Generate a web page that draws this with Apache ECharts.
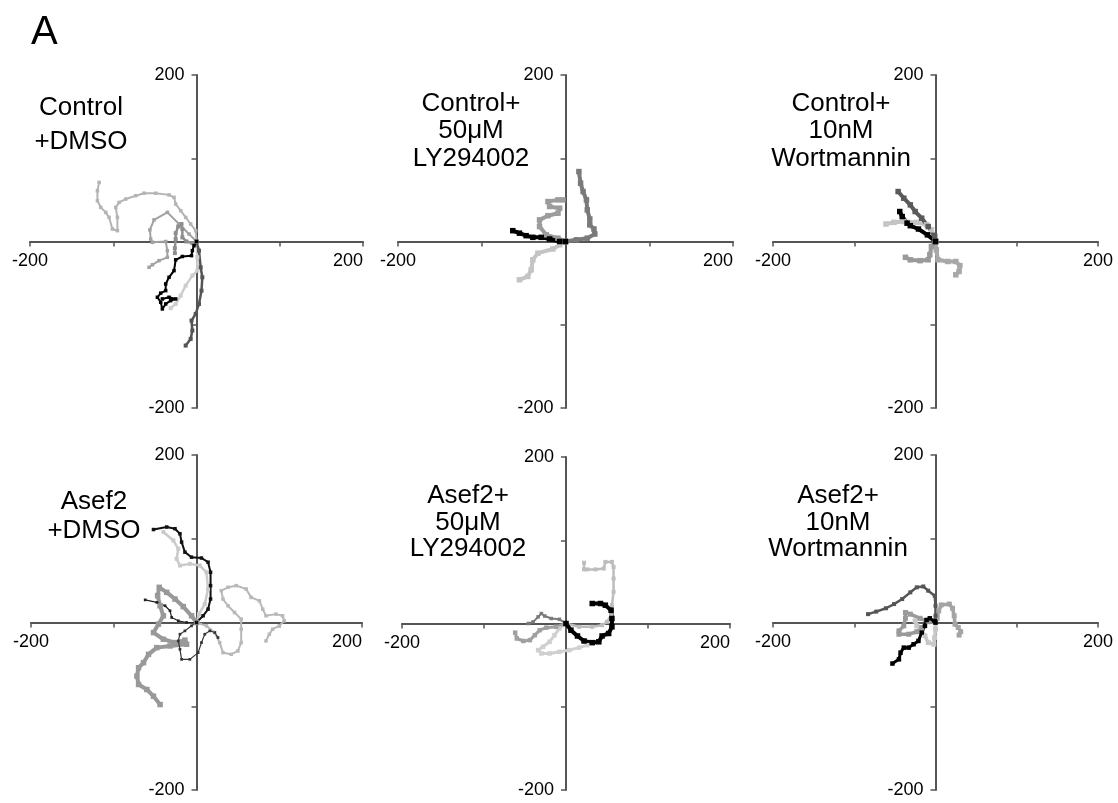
<!DOCTYPE html>
<html>
<head>
<meta charset="utf-8">
<title>Cell tracks</title>
<script src="https://cdn.jsdelivr.net/npm/echarts@6.0.0/dist/echarts.min.js"></script>
<style>
  html, body { margin: 0; padding: 0; background: #fff; }
  #tracks { width: 1118px; height: 803px; }
</style>
</head>
<body>
<div id="tracks"></div>
<script>
// axis range and the tick labels that are printed
var axisMin = -200;
var axisMax = 200;
var tickStep = 100;
var shownTicks = [-200, 200];

// panel titles
var panelTitles = [
  'Control\n+DMSO',
  'Control+\n50\u03bcM\nLY294002',
  'Control+\n10nM\nWortmannin',
  'Asef2\n+DMSO',
  'Asef2+\n50\u03bcM\nLY294002',
  'Asef2+\n10nM\nWortmannin'
];

// Control + DMSO tracks (x, y)
var c1A = [[0,0],[-1,13],[-7,21],[-13,29],[-19,37],[-25,45],[-27,53],[-33,56],[-49,58],[-63,58],[-73,55],[-85,51],[-93,47],[-97,41],[-95,29],[-95,13],[-101,15],[-105,29],[-109,35],[-115,41],[-119,49],[-119,61],[-117,71]];
var c1B = [[0,0],[-9,9],[-21,21],[-35,35],[-51,26],[-56,14],[-55,3],[-53,-1],[-37,0],[-35,-11],[-35,-19],[-45,-23],[-53,-28],[-57,-31]];
var c1C = [[0,0],[-5,-2],[-12,0],[-17,5],[-17,15],[-18,21],[-22,18],[-25,10],[-25,3],[-26,-8],[-26,-14]];
var c1D = [[0,0],[-3,-5],[-5,-11],[-6,-17],[-17,-18],[-25,-22],[-27,-35],[-33,-43],[-37,-51],[-37,-59],[-43,-62],[-47,-67],[-43,-73],[-41,-81],[-37,-75],[-31,-71],[-25,-69],[-33,-67],[-41,-69]];
var c1E = [[0,0],[1,-19],[1,-35],[-5,-41],[-13,-53],[-19,-65],[-25,-75],[-31,-80]];
var c1F = [[0,0],[3,-11],[5,-31],[7,-43],[6,-59],[3,-75],[-1,-87],[-6,-95],[-5,-107],[-7,-117],[-13,-125]];

// Control + LY294002
var c2A = [[0,0],[13,2],[26,4],[35,9],[34,15],[29,20],[29,27],[26,38],[25,50],[21,60],[18,70],[16,84]];
var c2B = [[0,0],[-9,4],[-23,8],[-31,18],[-31,26],[-21,31],[-9,34],[-7,40],[-19,42],[-21,48],[-9,50],[-3,50]];
var c2C = [[0,0],[-7,0],[-19,3],[-29,5],[-39,5],[-47,7],[-55,10],[-63,13]];
var c2D = [[0,0],[-7,-4],[-15,-9],[-33,-14],[-39,-22],[-41,-34],[-45,-42],[-55,-46]];

// Control + Wortmannin
var c3A = [[0,0],[-1,6],[-9,18],[-17,28],[-25,36],[-31,44],[-39,52],[-46,60]];
var c3B = [[0,0],[-10,8],[-21,15],[-31,19],[-35,22],[-41,30],[-44,36]];
var c3C = [[0,0],[-5,14],[-11,20],[-23,23],[-39,24],[-51,23],[-61,21]];
var c3D = [[0,0],[-5,-6],[-7,-16],[-9,-22],[-19,-23],[-31,-22],[-37,-19]];
var c3E = [[0,0],[1,-10],[3,-22],[15,-24],[25,-24],[30,-29],[29,-36],[25,-40]];

// Asef2 + DMSO
var c4A = [[0,0],[3,10],[10,22],[14,40],[12,60],[4,68],[-8,70],[-20,68],[-24,76],[-22,88],[-28,98],[-40,108]];
var c4B = [[0,0],[12,-4],[22,-12],[28,-24],[32,-36],[42,-38],[50,-34],[54,-24],[54,-8],[54,4],[46,12],[38,20],[32,28],[30,38],[38,42],[48,44],[60,40],[66,30],[76,26],[80,16],[84,8],[96,10],[104,8],[106,2],[100,-4],[92,-8],[88,-14],[84,-22]];
var c4C = [[0,0],[-6,8],[-16,19],[-26,28],[-36,36],[-45,42],[-47,32],[-44,20],[-40,8],[-46,-2],[-52,-12],[-40,-20],[-26,-24],[-14,-21],[-12,-26],[-32,-28],[-48,-30],[-58,-38],[-64,-48],[-70,-54],[-72,-64],[-70,-74],[-60,-80],[-52,-88],[-44,-98]];
var c4D = [[0,0],[8,8],[14,16],[17,28],[17,44],[17,60],[14,72],[6,77],[-6,78],[-14,84],[-18,96],[-20,106],[-26,112],[-36,114],[-52,111]];
var c4E = [[0,0],[-6,-4],[-14,-10],[-20,-14],[-22,-22],[-20,-32],[-18,-44],[-8,-44],[2,-36],[6,-24],[10,-14],[16,-10],[22,-12],[26,-18]];
var c4F = [[0,0],[-12,0],[-22,2],[-30,6],[-32,14],[-38,20],[-48,24],[-62,27]];

// Asef2 + LY294002
var c5A = [[0,0],[6,-8],[14,-15],[22,-21],[32,-23],[40,-22],[44,-15],[52,-12],[56,-4],[56,6],[55,16],[48,22],[42,24],[32,24]];
var c5B = [[0,0],[16,-4],[32,-4],[44,-2],[50,2],[55,10],[56,22],[58,38],[58,54],[58,68],[56,74],[48,74],[46,66],[36,65],[26,65],[22,65],[22,73]];
var c5C = [[0,0],[-8,5],[-18,6],[-26,9],[-30,12],[-34,8],[-40,2],[-46,0]];
var c5D = [[0,0],[-12,-4],[-24,-5],[-32,-8],[-38,-14],[-44,-20],[-52,-21],[-60,-18],[-62,-11]];
var c5E = [[0,0],[-8,-6],[-14,-14],[-20,-22],[-28,-28],[-34,-32],[-30,-36],[-20,-36],[-8,-34],[4,-32],[16,-29],[26,-26]];

// Asef2 + Wortmannin
var c6A = [[0,0],[0,8],[0,20],[-1,32],[-9,38],[-15,43],[-23,42],[-31,36],[-41,28],[-51,22],[-61,17],[-73,13],[-83,10]];
var c6B = [[0,0],[-1,2],[-7,5],[-11,3],[-13,-4],[-17,-12],[-21,-22],[-27,-26],[-33,-30],[-39,-30],[-43,-36],[-45,-44],[-53,-49]];
var c6C = [[0,0],[2,5],[4,14],[7,21],[17,22],[21,17],[23,8],[24,-2],[28,-6],[31,-11],[29,-15]];
var c6D = [[0,0],[-9,1],[-19,5],[-31,10],[-37,12],[-37,5],[-39,-4],[-45,-10],[-45,-14],[-33,-14],[-23,-11],[-17,-6]];
var c6E = [[0,0],[0,-8],[-1,-18],[-2,-26],[-9,-24],[-13,-16],[-17,-8],[-23,-4],[-25,2]];

document.addEventListener('DOMContentLoaded', function() {
  var myChart = echarts.init(document.getElementById('tracks'));
  var font = '"Liberation Sans", Arial, sans-serif';

  // layout of the six panels: grid box, title [centre x, top, line height]
  var panels = [
    { grid: { left: 30, top: 75, width: 333, height: 333 }, title: [76, 86, 34], maxAlign: 'right',
      tracks: [[c1A, '#b4b4b4', 2], [c1B, '#a2a2a2', 2], [c1C, '#8e8e8e', 2.5], [c1E, '#cdcdcd', 2.5], [c1F, '#555555', 2.5], [c1D, '#000000', 2]] },
    { grid: { left: 398, top: 75, width: 335, height: 333 }, title: [466, 85, 27.5], maxAlign: 'right',
      tracks: [[c2D, '#c4c4c4', 4], [c2B, '#9c9c9c', 4], [c2A, '#7a7a7a', 4], [c2C, '#000000', 4]] },
    { grid: { left: 773, top: 75, width: 325, height: 333 }, title: [836, 85, 27.5], maxAlign: 'center',
      tracks: [[c3C, '#c4c4c4', 4], [c3E, '#a8a8a8', 4], [c3D, '#9a9a9a', 4], [c3A, '#5a5a5a', 4], [c3B, '#000000', 4]] },
    { grid: { left: 31, top: 455, width: 331, height: 335 }, title: [89, 482, 29], maxAlign: 'right',
      tracks: [[c4A, '#cacaca', 2.5], [c4B, '#b8b8b8', 2], [c4C, '#999999', 4], [c4F, '#222222', 1.2], [c4E, '#333333', 1.2], [c4D, '#111111', 2]] },
    { grid: { left: 402, top: 457, width: 328, height: 333 }, title: [463, 478, 26.5], maxAlign: 'right',
      tracks: [[c5E, '#d0d0d0', 3], [c5B, '#bdbdbd', 2.5], [c5D, '#a0a0a0', 3], [c5C, '#7a7a7a', 2], [c5A, '#000000', 4]] },
    { grid: { left: 773, top: 455, width: 325, height: 335 }, title: [833, 478, 26.5], maxAlign: 'center',
      tracks: [[c6E, '#c8c8c8', 3.5], [c6D, '#9a9a9a', 3.5], [c6C, '#a4a4a4', 3.5], [c6A, '#555555', 2.5], [c6B, '#000000', 3]] }
  ];

  var grids = [], xAxes = [], yAxes = [], series = [];
  var titles = [{
    text: 'A', left: 26, top: 8,
    textStyle: { fontSize: 40, fontWeight: 'normal', color: '#000', fontFamily: font }
  }];

  function tickLabel(v) {
    return shownTicks.indexOf(v) >= 0 ? String(v) : '';
  }

  panels.forEach(function(p, i) {
    grids.push(Object.assign({ outerBoundsMode: 'none', containLabel: false }, p.grid));
    titles.push({
      text: panelTitles[i], left: p.title[0], top: p.title[1], textAlign: 'center',
      textStyle: { fontSize: 26, fontWeight: 'normal', color: '#000', fontFamily: font, lineHeight: p.title[2] }
    });
    var axisCommon = {
      type: 'value', gridIndex: i, min: axisMin, max: axisMax, interval: tickStep,
      splitLine: { show: false },
      axisLine: { onZero: false, lineStyle: { color: '#555', width: 2 } },
      axisTick: { length: 5, lineStyle: { color: '#555', width: 1.5 } }
    };
    // axes cross in the middle of the grid: shift them inward by half its size
    xAxes.push(Object.assign({}, axisCommon, {
      position: 'bottom', offset: -p.grid.height / 2,
      axisLabel: { formatter: tickLabel, fontSize: 18, color: '#000', fontFamily: font, margin: 11,
        showMinLabel: true, showMaxLabel: true, alignMinLabel: 'center', alignMaxLabel: p.maxAlign }
    }));
    yAxes.push(Object.assign({}, axisCommon, {
      position: 'left', offset: -p.grid.width / 2,
      axisLabel: { formatter: tickLabel, fontSize: 18, color: '#000', fontFamily: font, margin: 12,
        showMinLabel: true, showMaxLabel: true }
    }));
    p.tracks.forEach(function(t) {
      series.push({
        type: 'line', xAxisIndex: i, yAxisIndex: i, data: t[0],
        symbol: 'rect', symbolSize: t[2] + 1.5, showSymbol: true,
        itemStyle: { color: t[1] },
        lineStyle: { color: t[1], width: t[2] },
        silent: true, animation: false
      });
    });
  });

  var option = {
    backgroundColor: '#fff',
    title: titles,
    grid: grids,
    xAxis: xAxes,
    yAxis: yAxes,
    series: series
  };

  myChart.setOption(option);

  window.addEventListener('resize', function() {
    myChart.resize();
  });
});
</script>
</body>
</html>
